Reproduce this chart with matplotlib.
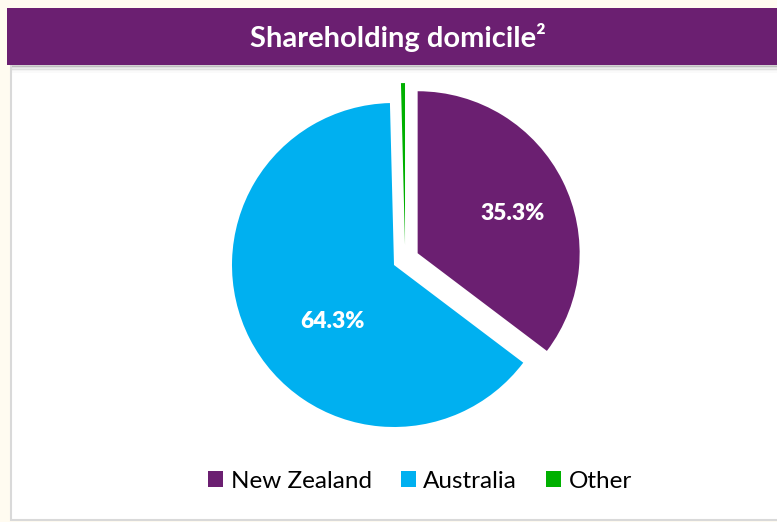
import matplotlib
matplotlib.use('Agg')
import matplotlib.pyplot as plt
from matplotlib.patches import Rectangle

# data
labels = ['New Zealand', 'Australia', 'Other']
shares = [35.3, 64.3, 0.4]
colors = ['#6B1F71', '#00B0F0', '#00B000']
explode = [0.163, 0, 0.12]
title = 'Shareholding domicile²'

plt.rcParams['font.family'] = ['Lato', 'DejaVu Sans']

W, H = 777, 522
fig = plt.figure(figsize=(W / 100, H / 100), dpi=100)
fig.patch.set_facecolor('#FFFBF0')

def px_rect(x0, y0, x1, y1, z=-5, **kw):
    # rectangle in pixel coords (top-left origin)
    fig.patches.append(Rectangle((x0 / W, 1 - y1 / H), (x1 - x0) / W, (y1 - y0) / H,
                                 transform=fig.transFigure, figure=fig, zorder=z, **kw))

# white panel with grey border
px_rect(11, 60, W + 5, 520, facecolor='white', edgecolor='#D9D9D9', linewidth=1.5)
# header shadow
for i, a in enumerate([0.35, 0.25, 0.16, 0.09, 0.04]):
    px_rect(12, 65 + i * 1.5, W, 66.5 + i * 1.5, facecolor='#808080', alpha=a, linewidth=0)
# purple header
px_rect(7, 8, W, 65, z=5, facecolor='#6B1F71', linewidth=0)
fig.text(398 / W, 1 - 38 / H, title, color='white', fontsize=21, fontweight='bold',
         ha='center', va='center', zorder=6)

# pie
r = 162
cx, cy = 394, 265
ax = fig.add_axes([(cx - 1.5 * r) / W, (H - cy - 1.5 * r) / H, 3 * r / W, 3 * r / H])

wedges, texts, autotexts = ax.pie(
    shares, colors=colors, explode=explode, startangle=90, counterclock=False,
    autopct=lambda p: '%.1f%%' % p if p > 2 else '', pctdistance=0.6,
    textprops=dict(color='white', fontsize=16.5, fontweight='heavy'),
    wedgeprops=dict(linewidth=0))
# nudge the tiny "Other" sliver and the labels like the original
wedges[2].set_center((0.068, 0.123))
autotexts[0].set_position((0.735, 0.32))
autotexts[1].set_position((-0.377, -0.35))
ax.set_xlim(-1.5, 1.5)
ax.set_ylim(-1.5, 1.5)
ax.set_aspect('equal')
ax.axis('off')

fig.legend(wedges, labels, loc='center', bbox_to_anchor=(420 / W, 1 - 481 / H),
           ncol=3, frameon=False, fontsize=17.5, handlelength=0.62, handleheight=0.62,
           handletextpad=0.3, columnspacing=1.2)

fig.savefig('out.png', dpi=100, facecolor=fig.get_facecolor())
